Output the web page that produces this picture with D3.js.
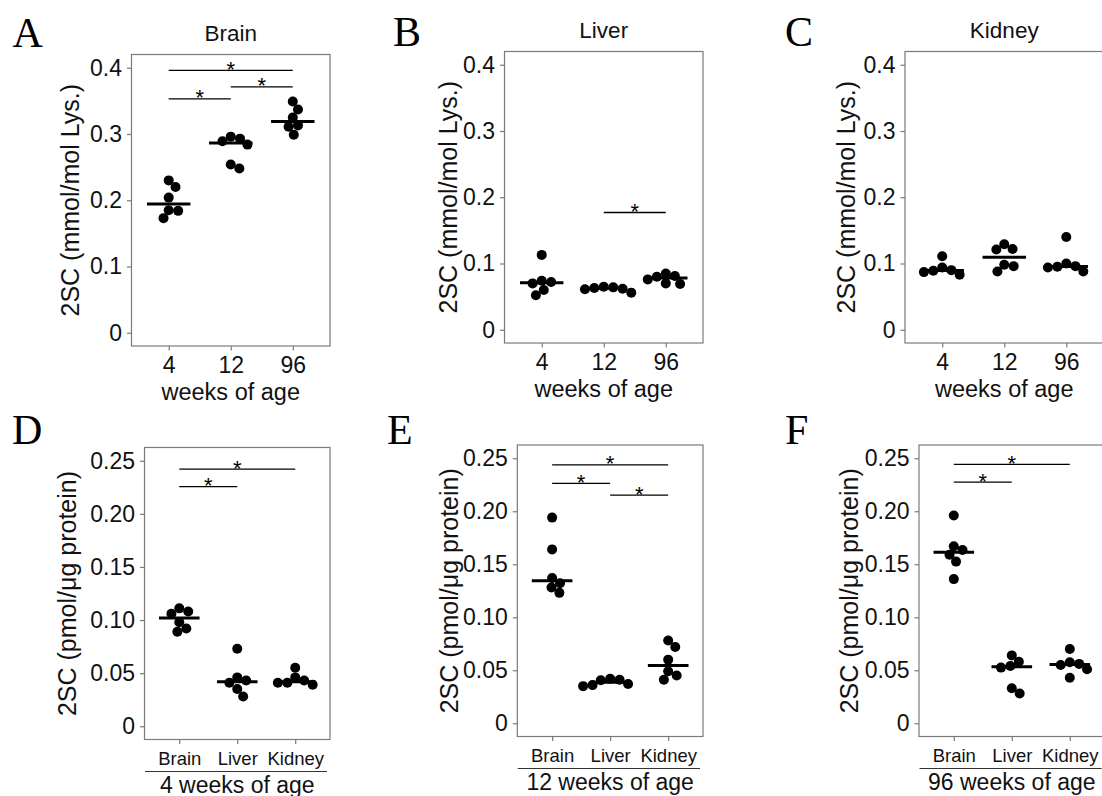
<!DOCTYPE html>
<html><head><meta charset="utf-8">
<script src="https://cdn.jsdelivr.net/npm/d3@7"></script>
<style>body{margin:0;background:#fff} svg{display:block}</style>
</head><body>
<svg id="chart" width="1102" height="796"></svg>
<script>
// ---------------- data ----------------
const ageCategories = ["4", "12", "96"];
const tissueCategories = ["Brain", "Liver", "Kidney"];
const yTicksTop = [0, 0.1, 0.2, 0.3, 0.4];
const yTickLabelsTop = ["0", "0.1", "0.2", "0.3", "0.4"];
const yTicksBottom = [0, 0.05, 0.10, 0.15, 0.20, 0.25];
const yTickLabelsBottom = ["0", "0.05", "0.10", "0.15", "0.20", "0.25"];

// 2SC (mmol/mol Lys.) by age, per tissue
const brainByAge = [
  [0.230, 0.220, 0.204, 0.185, 0.184, 0.173],
  [0.296, 0.293, 0.289, 0.284, 0.254, 0.248],
  [0.349, 0.337, 0.325, 0.313, 0.311, 0.299]
];
const liverByAge = [
  [0.113, 0.074, 0.072, 0.070, 0.060, 0.052],
  [0.065, 0.064, 0.063, 0.062, 0.061, 0.056],
  [0.085, 0.081, 0.080, 0.076, 0.070, 0.069]
];
const kidneyByAge = [
  [0.111, 0.094, 0.090, 0.089, 0.087, 0.083],
  [0.129, 0.122, 0.121, 0.098, 0.096, 0.088],
  [0.140, 0.100, 0.096, 0.095, 0.094, 0.088]
];
// 2SC (pmol/ug protein) by tissue, per age
const week4ByTissue = [
  [0.111, 0.108, 0.106, 0.098, 0.092, 0.089],
  [0.073, 0.046, 0.043, 0.041, 0.035, 0.028],
  [0.055, 0.046, 0.043, 0.041, 0.041, 0.039]
];
const week12ByTissue = [
  [0.194, 0.164, 0.137, 0.132, 0.128, 0.123],
  [0.042, 0.041, 0.0405, 0.037, 0.036, 0.035],
  [0.078, 0.072, 0.060, 0.049, 0.045, 0.041]
];
const week96ByTissue = [
  [0.196, 0.167, 0.1635, 0.159, 0.1525, 0.136],
  [0.064, 0.058, 0.054, 0.0525, 0.033, 0.028],
  [0.070, 0.0575, 0.056, 0.055, 0.051, 0.043]
];
// significance brackets: [from category index, to category index, level]
const brainSig = [[0, 2, 0.396], [0, 1, 0.353], [1, 2, 0.371]];
const liverSig = [[1, 2, 0.177]];
const kidneySig = [];
const week4Sig = [[0, 2, 0.2422], [0, 1, 0.2256]];
const week12Sig = [[0, 2, 0.2437], [0, 1, 0.2263], [1, 2, 0.2153]];
const week96Sig = [[0, 2, 0.2443], [0, 1, 0.2274]];

// ---------------- layout ----------------
const SANS = "'Liberation Sans', Arial, Helvetica, sans-serif";
const SERIF = "'Liberation Serif', 'Times New Roman', serif";
const svg = d3.select("#chart");

const panels = [
  {letter: "A", lx: 12.5, ly: 46.5, title: "Brain", data: brainByAge, cats: ageCategories, sig: brainSig,
   x0: 131.5, x1: 330, y0: 54.5, y1: 346, top: true, ytx: 70},
  {letter: "B", lx: 393, ly: 46, title: "Liver", data: liverByAge, cats: ageCategories, sig: liverSig,
   x0: 504.5, x1: 703, y0: 51.5, y1: 343, top: true, ytx: 448},
  {letter: "C", lx: 785, ly: 46, title: "Kidney", data: kidneyByAge, cats: ageCategories, sig: kidneySig,
   x0: 905, x1: 1103.5, y0: 51.5, y1: 343, top: true, ytx: 846},
  {letter: "D", lx: 12, ly: 444, xtitle: "4 weeks of age", data: week4ByTissue, cats: tissueCategories, sig: week4Sig,
   x0: 144.5, x1: 330, y0: 447.5, y1: 739.5, top: false, ytx: 67},
  {letter: "E", lx: 387, ly: 444, xtitle: "12 weeks of age", data: week12ByTissue, cats: tissueCategories, sig: week12Sig,
   x0: 517.3, x1: 703, y0: 445, y1: 736.5, top: false, ytx: 449},
  {letter: "F", lx: 785, ly: 444, xtitle: "96 weeks of age", data: week96ByTissue, cats: tissueCategories, sig: week96Sig,
   x0: 919, x1: 1104.6, y0: 445, y1: 736.5, top: false, ytx: 849.5}
];

function swarm(values, yScale, r) {
  const pts = values.map((v, i) => ({v, y: yScale(v), x: 0, i}));
  const order = pts.slice().sort((a, b) => a.y - b.y);
  const placed = [];
  const d = 2 * r * 0.95;
  for (const p of order) {
    const cands = [0];
    for (const q of placed) {
      const dy = p.y - q.y;
      if (Math.abs(dy) < d) {
        const dx = Math.sqrt(d * d - dy * dy);
        cands.push(q.x + dx, q.x - dx);
      }
    }
    cands.sort((a, b) => Math.abs(a) - Math.abs(b));
    for (const c of cands) {
      if (placed.every(q => (q.x - c) ** 2 + (q.y - p.y) ** 2 >= d * d - 1e-6)) { p.x = c; break; }
    }
    placed.push(p);
  }
  return pts;
}

panels.forEach(cfg => {
  const g = svg.append("g");
  const x = d3.scalePoint().domain(cfg.cats).range([cfg.x0, cfg.x1]).padding(0.6);
  const domain = cfg.top ? [-0.02, 0.42] : [-0.0125, 0.2625];
  const y = d3.scaleLinear().domain(domain).range([cfg.y1, cfg.y0]);
  const ticks = cfg.top ? yTicksTop : yTicksBottom;
  const tickLabels = cfg.top ? yTickLabelsTop : yTickLabelsBottom;
  const step = x.step();

  // frame
  g.append("rect").attr("x", cfg.x0).attr("y", cfg.y0)
    .attr("width", cfg.x1 - cfg.x0).attr("height", cfg.y1 - cfg.y0)
    .attr("fill", "none").attr("stroke", "#7a7a7a").attr("stroke-width", 1.2);

  // y axis
  const yAxis = d3.axisLeft(y).tickValues(ticks)
    .tickFormat((d, i) => tickLabels[i]).tickSize(4.5).tickPadding(5);
  const ya = g.append("g").attr("transform", `translate(${cfg.x0},0)`).call(yAxis);
  ya.select(".domain").remove();
  ya.selectAll(".tick line").attr("stroke", "#7a7a7a").attr("stroke-width", 1.2);
  ya.selectAll(".tick text").attr("font-family", SANS).attr("font-size", 23).attr("fill", "#111");

  // x axis
  const xAxis = d3.axisBottom(x).tickSize(4.5).tickPadding(cfg.top ? 6.5 : 7.5);
  const xa = g.append("g").attr("transform", `translate(0,${cfg.y1})`).call(xAxis);
  xa.select(".domain").remove();
  xa.selectAll(".tick line").attr("stroke", "#7a7a7a").attr("stroke-width", 1.2);
  xa.selectAll(".tick text").attr("font-family", SANS).attr("font-size", cfg.top ? 23 : 18.5).attr("fill", "#111");

  // y title
  g.append("text")
    .attr("transform", `translate(${cfg.ytx},${(cfg.y0 + cfg.y1) / 2}) rotate(-90)`)
    .attr("dy", "0.35em").attr("text-anchor", "middle")
    .attr("font-family", SANS).attr("font-size", 25).attr("fill", "#111")
    .text(cfg.top ? "2SC (mmol/mol Lys.)" : "2SC (pmol/\u03bcg protein)");

  const cx = (cfg.x0 + cfg.x1) / 2;
  if (cfg.top) {
    g.append("text").attr("x", cx).attr("y", cfg.y0 - 13.5).attr("text-anchor", "middle")
      .attr("font-family", SANS).attr("font-size", 22.5).attr("fill", "#111").text(cfg.title);
    g.append("text").attr("x", cx).attr("y", cfg.y1 + 53.5).attr("text-anchor", "middle")
      .attr("font-family", SANS).attr("font-size", 23.5).attr("fill", "#111").text("weeks of age");
  } else {
    g.append("line").attr("x1", cfg.x0 + 0.5).attr("x2", cfg.x1 - 3)
      .attr("y1", cfg.y1 + 32).attr("y2", cfg.y1 + 32).attr("stroke", "#333").attr("stroke-width", 1.2);
    g.append("text").attr("x", cx).attr("y", cfg.y1 + 53).attr("text-anchor", "middle")
      .attr("font-family", SANS).attr("font-size", 23).attr("fill", "#111").text(cfg.xtitle);
  }

  // panel letter
  svg.append("text").attr("x", cfg.lx).attr("y", cfg.ly)
    .attr("font-family", SERIF).attr("font-size", 42).attr("fill", "#000").text(cfg.letter);

  // points & medians
  const r = 5;
  cfg.data.forEach((vals, ci) => {
    const xc = x(cfg.cats[ci]);
    const pts = swarm(vals, y, r);
    g.append("g").selectAll("circle").data(pts).join("circle")
      .attr("cx", d => xc + d.x).attr("cy", d => d.y).attr("r", r).attr("fill", "#000");
    const med = d3.median(vals);
    g.append("line").attr("x1", xc - 0.35 * step).attr("x2", xc + 0.35 * step)
      .attr("y1", y(med)).attr("y2", y(med)).attr("stroke", "#000").attr("stroke-width", 3);
  });

  // significance brackets
  cfg.sig.forEach(([a, b, lvl]) => {
    const xa1 = x(cfg.cats[a]), xb1 = x(cfg.cats[b]);
    g.append("line").attr("x1", xa1).attr("x2", xb1).attr("y1", y(lvl)).attr("y2", y(lvl))
      .attr("stroke", "#000").attr("stroke-width", 1.3);
    g.append("text").attr("x", (xa1 + xb1) / 2).attr("y", y(lvl) + 6.5).attr("text-anchor", "middle")
      .attr("font-family", SANS).attr("font-size", 22).attr("fill", "#000").text("*");
  });
});
</script>
</body></html>
